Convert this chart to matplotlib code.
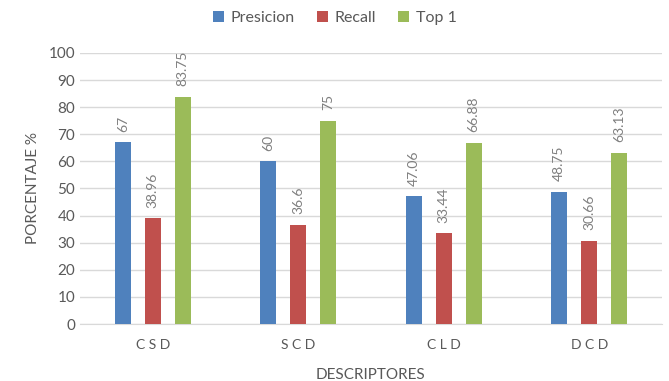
import numpy as np
import matplotlib.pyplot as plt

plt.rcParams['font.family'] = ['Lato', 'DejaVu Sans']

# Data
categories = ['C S D', 'S C D', 'C L D', 'D C D']
presicion = [67, 60, 47.06, 48.75]
recall = [38.96, 36.6, 33.44, 30.66]
top1 = [83.75, 75, 66.88, 63.13]
series_names = ['Presicion', 'Recall', 'Top 1']
colors = ['#4F81BD', '#C0504D', '#9BBB59']

fig = plt.figure(figsize=(6.69, 3.81), dpi=100)
ax = fig.add_axes([0.1196, 0.1496, 0.8699, 0.7114])

x = np.arange(len(categories))
width = 0.11
step = 0.206
text_color = '#595959'

for i, (vals, name, c) in enumerate(zip([presicion, recall, top1], series_names, colors)):
    pos = x + (i - 1) * step
    ax.bar(pos, vals, width, color=c, label=name, zorder=3)
    # rotated value labels above each bar
    for p, v in zip(pos, vals):
        ax.text(p, v + 4, f'{v:g}', rotation=90, ha='center', va='bottom',
                fontsize=10, color='#7F7F7F')

ax.set_xlim(-0.5, len(categories) - 0.5)
ax.set_ylim(0, 100)
ax.set_yticks(np.arange(0, 101, 10))
ax.set_xticks(x)
ax.set_xticklabels(categories)
ax.grid(axis='y', color='#D9D9D9', linewidth=1, zorder=0)
for s in ['top', 'right', 'left']:
    ax.spines[s].set_visible(False)
ax.spines['bottom'].set_color('#D9D9D9')
ax.tick_params(axis='both', length=0, colors=text_color, labelsize=11)
ax.tick_params(axis='x', pad=11, labelsize=10)
ax.set_ylabel('PORCENTAJE %', fontsize=11, color=text_color, labelpad=6)
ax.set_xlabel('DESCRIPTORES', fontsize=11, color=text_color, labelpad=12)

fig.legend(loc='upper center', bbox_to_anchor=(0.5, 1.01), ncol=3, frameon=False,
           fontsize=11.5, handlelength=0.7, handleheight=0.7, handletextpad=0.4,
           columnspacing=1.4, labelcolor=text_color)

plt.savefig('out.png', dpi=100)
plt.close()
